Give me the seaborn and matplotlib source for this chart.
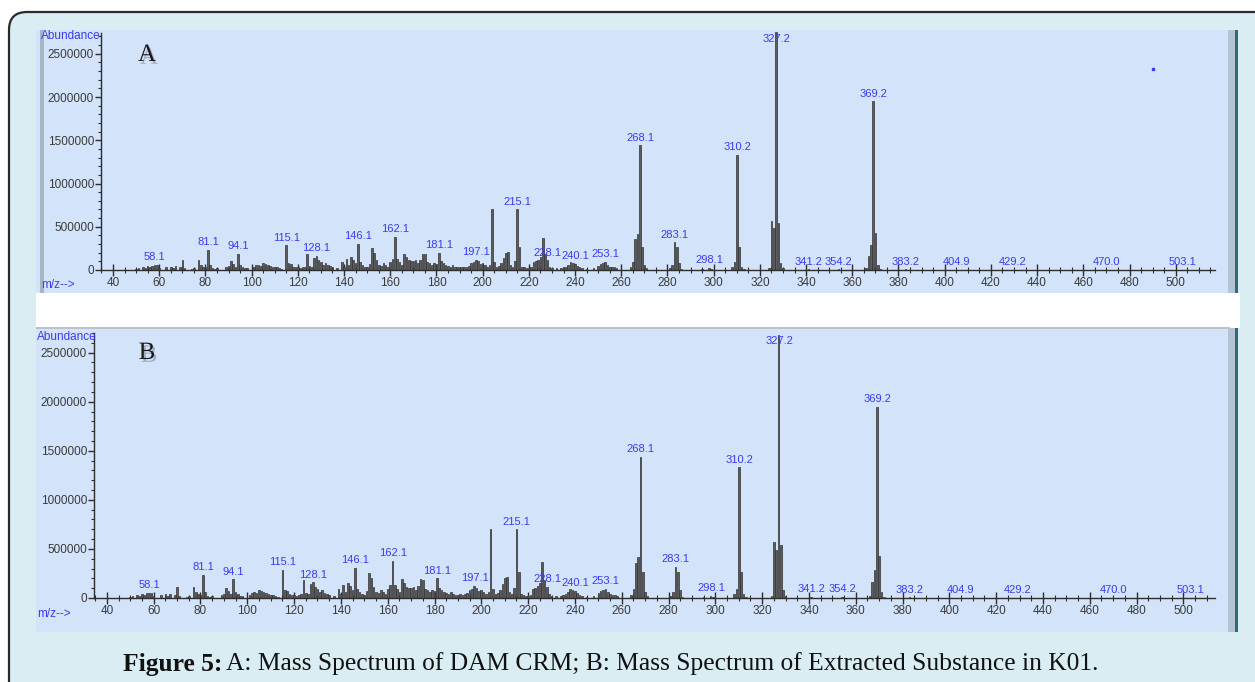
import matplotlib
matplotlib.use("Agg")
import matplotlib.pyplot as plt
import matplotlib.ticker as mticker
import matplotlib.patheffects as pe
from matplotlib.patches import Rectangle, FancyBboxPatch
from matplotlib.transforms import IdentityTransform
import seaborn as sns

# m/z values and abundances (A and B look the same)
mz = [50, 51, 53, 54, 55, 56, 57, 58, 59, 60, 63, 65, 66, 67, 69, 70, 71, 74, 75,
      77, 78, 79, 80, 81, 82, 83, 84, 85, 89, 90, 91, 92, 93, 94, 95, 96, 97, 98,
      101, 102, 103, 104, 105, 106, 107, 108, 109, 110, 111, 112, 113, 115, 116,
      117, 118, 119, 120, 121, 122, 123, 124, 125, 126, 127, 128, 129, 130, 131,
      132, 133, 134, 135, 137, 139, 140, 141, 142, 143, 144, 145, 146, 147, 148,
      149, 150, 151, 152, 153, 154, 155, 156, 157, 158, 159, 160, 161, 162, 163,
      164, 165, 166, 167, 168, 169, 170, 171, 172, 173, 174, 175, 176, 177, 178,
      179, 180, 181, 182, 183, 184, 185, 186, 187, 188, 189, 190, 191, 192, 193,
      194, 195, 196, 197, 198, 199, 200, 201, 202, 203, 204, 205, 206, 207, 208,
      209, 210, 211, 212, 213, 214, 215, 216, 217, 218, 219, 220, 221, 222, 223,
      224, 225, 226, 227, 228, 229, 230, 232, 234, 235, 236, 237, 238, 239, 240,
      241, 242, 243, 245, 248, 250, 251, 252, 253, 254, 255, 256, 257, 258, 264,
      265, 266, 267, 268, 269, 270, 271, 281, 282, 283, 284, 285, 286, 295, 298,
      299, 308, 309, 310, 311, 312, 313, 324, 325, 326, 327, 328, 329, 330, 341,
      354, 366, 367, 368, 369, 370, 371, 372, 383, 405, 429, 470, 503]
abundance = [15000, 25000, 30000, 20000, 45000, 30000, 50000, 55000, 55000, 20000,
             30000, 40000, 20000, 45000, 30000, 115000, 20000, 15000, 20000,
             110000, 60000, 40000, 30000, 235000, 60000, 25000, 15000, 20000,
             30000, 45000, 100000, 70000, 40000, 190000, 60000, 40000, 20000, 25000,
             35000, 55000, 60000, 50000, 80000, 70000, 60000, 50000, 40000, 35000,
             30000, 20000, 15000, 285000, 80000,
             70000, 40000, 30000, 35000, 25000, 30000, 40000, 180000, 50000, 40000,
             140000, 160000, 110000, 90000, 60000,
             80000, 55000, 45000, 30000, 20000, 90000, 40000, 130000, 60000, 150000,
             120000, 80000, 305000, 90000, 60000,
             40000, 30000, 70000, 250000, 200000, 110000, 60000, 50000, 80000, 60000,
             40000, 90000, 130000, 380000, 130000,
             90000, 60000, 190000, 150000, 110000, 100000, 100000, 110000, 80000,
             120000, 190000, 180000, 90000, 80000, 60000,
             80000, 70000, 200000, 100000, 80000, 60000, 50000, 40000, 60000, 40000,
             35000, 30000, 40000, 30000, 40000,
             50000, 80000, 90000, 120000, 100000, 70000, 80000, 60000, 40000, 60000,
             700000, 90000, 40000, 50000, 80000,
             140000, 200000, 210000, 60000, 40000, 100000, 700000, 270000, 40000,
             30000, 20000, 25000, 30000, 90000, 100000,
             120000, 150000, 370000, 180000, 110000, 40000, 20000, 20000, 25000,
             30000, 40000, 60000, 90000, 80000, 70000,
             50000, 30000, 20000, 15000, 20000, 50000, 70000, 80000, 90000, 60000,
             40000, 35000, 30000, 20000, 30000,
             90000, 360000, 420000, 1440000, 270000, 60000, 20000, 20000, 60000,
             320000, 270000, 80000, 15000, 10000, 20000,
             10000, 40000, 90000, 1330000, 270000, 40000, 10000, 20000, 570000,
             490000, 2750000, 540000, 80000, 20000, 8000,
             8000, 20000, 160000, 290000, 1950000, 430000, 60000, 15000, 6000, 5000,
             5000, 5000, 5000]
# spectrum B differs only in the base peak height
b_changes = {327: 2680000}
abundance_b = [b_changes.get(m, a) for m, a in zip(mz, abundance)]

peak_labels = ["58.1", "81.1", "94.1", "115.1", "128.1", "146.1", "162.1", "181.1",
               "197.1", "215.1", "228.1", "240.1", "253.1", "268.1", "283.1", "298.1",
               "310.2", "327.2", "341.2", "354.2", "369.2", "383.2", "404.9", "429.2",
               "470.0", "503.1"]

W, H = 1255, 682
blue = "#3b3bf2"
grey_txt = "#3a3a3a"

sns.set_style("ticks")
plt.rcParams["font.family"] = ["Liberation Sans", "DejaVu Sans"]

fig = plt.figure(figsize=(W / 100, H / 100), dpi=100)
fig.patch.set_facecolor("white")


def px_rect(x0, y0, x1, y1, **kw):
    # rectangle in pixel coords measured from the top-left corner
    return Rectangle((x0, H - y1), x1 - x0, y1 - y0, transform=IdentityTransform(),
                     zorder=-5, **kw)


# outer rounded frame
fig.add_artist(FancyBboxPatch((9, -30), 1270, H - 12 + 30,
                              boxstyle="round,pad=0,rounding_size=18",
                              transform=IdentityTransform(), zorder=-6,
                              facecolor="#d9edf2", edgecolor="#2a2a2a", lw=1.6))
# panel backgrounds
fig.add_artist(px_rect(36, 30, 1237, 293, facecolor="#d3e3fa", edgecolor="none"))
fig.add_artist(px_rect(40, 30, 44, 293, facecolor="#a8b3c4", edgecolor="none"))
fig.add_artist(px_rect(36, 293, 1240, 328, facecolor="white", edgecolor="none"))
fig.add_artist(px_rect(36, 328, 1237, 632, facecolor="#d3e3fa", edgecolor="none"))
fig.add_artist(px_rect(36, 327, 1230, 329, facecolor="#b9c3cf", edgecolor="none"))
for y0, y1 in [(30, 293), (328, 632)]:
    fig.add_artist(px_rect(1228, y0, 1235, y1, facecolor="#b6c3d4", edgecolor="none"))
    fig.add_artist(px_rect(1235, y0, 1238, y1, facecolor="#2c6b7c", edgecolor="none"))

# axes layout: (left px, right px, zero-line px, top px, xlim, ylim top, letter, letter pos)
panels = [
    (abundance, 101, 1215, 270, 33, (34.8, 517.0), 2.74e6, "A", (147, 55), (41, 36), 285),
    (abundance_b, 94, 1215, 598, 333, (34.5, 513.5), 2.70e6, "B", (147, 353), (37, 337), 614),
]

for ab, left, right, zero, top, xlim, ytop, letter, lpos, abpos, mzy in panels:
    ax = fig.add_axes([left / W, (H - zero) / H, (right - left) / W, (zero - top) / H])
    ax.set_facecolor("none")
    sns.histplot(x=mz, weights=ab, discrete=True, shrink=0.7,
                 color="#5c5c5c", edgecolor="#333333", linewidth=0.5, alpha=1,
                 ax=ax)
    for p in ax.patches:
        p.set_clip_on(False)
    ax.set_xlim(*xlim)
    ax.set_ylim(0, ytop)
    ax.set_xlabel("")
    ax.set_ylabel("")
    sns.despine(ax=ax)
    for s in ["left", "bottom"]:
        ax.spines[s].set_color("#2e2e2e")
        ax.spines[s].set_linewidth(1.0)
    ax.xaxis.set_major_locator(mticker.MultipleLocator(20))
    ax.xaxis.set_minor_locator(mticker.MultipleLocator(5))
    ax.yaxis.set_major_locator(mticker.MultipleLocator(500000))
    ax.yaxis.set_minor_locator(mticker.MultipleLocator(100000))
    ax.yaxis.set_major_formatter(mticker.FuncFormatter(lambda v, p: f"{int(v)}"))
    ax.tick_params(axis="x", which="major", direction="inout", length=8, width=1,
                   color="#2e2e2e", labelcolor=grey_txt, labelsize=8.5, pad=1)
    ax.tick_params(axis="x", which="minor", direction="inout", length=5, width=0.8,
                   color="#2e2e2e")
    ax.tick_params(axis="y", which="major", direction="out", length=4, width=1,
                   color="#2e2e2e", labelcolor=grey_txt, labelsize=8.5, pad=1)
    ax.tick_params(axis="y", which="minor", direction="out", length=2, width=0.8,
                   color="#2e2e2e")

    # peak labels
    lookup = dict(zip(mz, ab))
    for lab in peak_labels:
        m = float(lab)
        h = lookup.get(round(m), 0)
        ax.annotate(lab, (m, min(h, ytop * 0.94)), xytext=(0, 2),
                    textcoords="offset points", ha="center", va="bottom",
                    fontsize=8, color=blue, annotation_clip=False)
    if letter == "A":
        ax.plot([490], [2.32e6], marker="s", ms=1.5, color=blue, clip_on=False)

    fig.text(abpos[0] / W, 1 - abpos[1] / H, "Abundance", fontsize=8.5, color=blue,
             ha="left", va="center")
    fig.text(abpos[0] / W, 1 - mzy / H, "m/z-->", fontsize=8.5, color=blue,
             ha="left", va="center")
    fig.text(lpos[0] / W, 1 - lpos[1] / H, letter, fontsize=18, color="#1a1a1a",
             family="Liberation Serif", ha="center", va="center",
             path_effects=[pe.withSimplePatchShadow(offset=(1.5, -2), alpha=0.25)])

# caption
t1 = fig.text(123 / W, 1 - 664 / H, "Figure 5:", fontsize=18.4, fontweight="bold",
              family="Liberation Serif", color="#111111", ha="left", va="center")
fig.canvas.draw()
bb = t1.get_window_extent()
fig.text((bb.x1 + 4) / W, 1 - 664 / H,
         "A: Mass Spectrum of DAM CRM; B: Mass Spectrum of Extracted Substance in K01.",
         fontsize=18.4, family="Liberation Serif", color="#111111", ha="left", va="center")

fig.savefig("out.png", dpi=100, facecolor=fig.get_facecolor())
